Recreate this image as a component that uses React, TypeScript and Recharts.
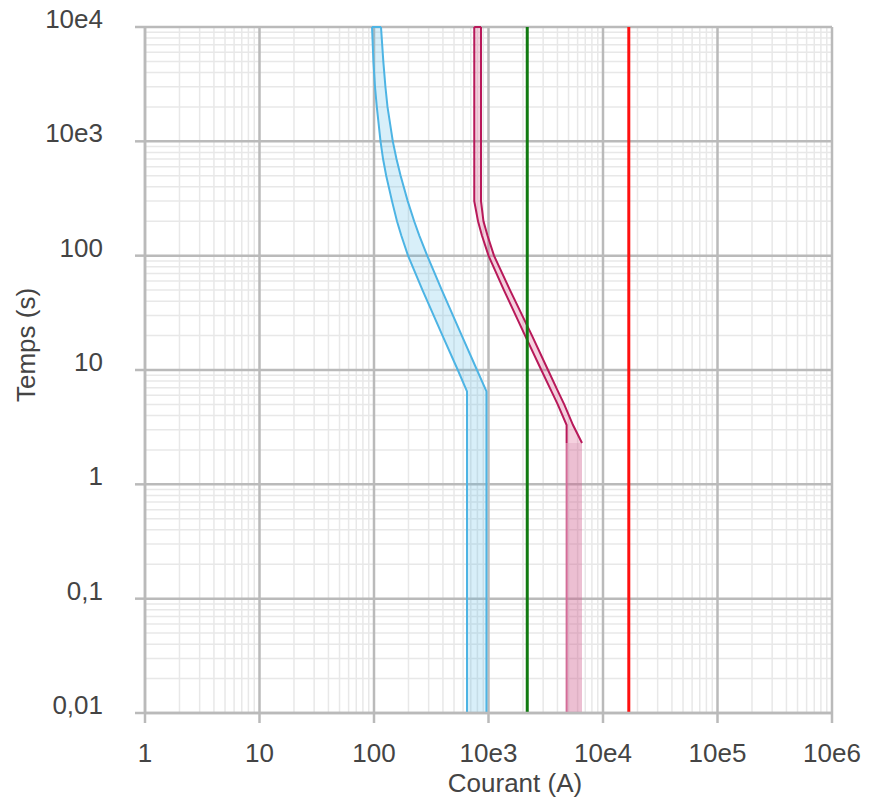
import React from "react";
import {
  ComposedChart,
  Area,
  Line,
  XAxis,
  YAxis,
  CartesianGrid,
  ReferenceLine,
} from "recharts";

const FONT = "Arial, 'Liberation Sans', sans-serif";

// temps (s), lu de haut en bas
const times = [10000, 5000, 3000, 2000, 1000, 700, 500, 300, 200, 150, 100, 50, 20, 10, 6.5, 5, 3.3, 2.3, 0.01];

// courbe bleue (courant mini / maxi)
const blueMin = [96.1, 98.8, 102, 105.8, 114, 120, 127.8, 143.6, 158.8, 173.1, 198.2, 265.2, 396.6, 539.4, 649, 649, 649, 649, 649];
const blueMax = [115.1, 120.6, 125.8, 131.2, 146, 157.2, 170.8, 197, 224.4, 248.7, 291.5, 391.1, 584.6, 793.4, 960, 960, 960, 960, 960];

// courbe bordeaux (thermique)
const redMin = [751, 751, 751, 751, 751, 751, 751, 751, 810, 876, 1000, 1363, 2087, 2892, 3550, 4022, 4810, 4810, null];
const redMax = [860, 860, 860, 860, 860, 860, 860, 860, 904, 980, 1117, 1541, 2398, 3309, 4046, 4584, 5470, 6555, null];

// zone instantanée (rose)
const pinkMin = [null, null, null, null, null, null, null, null, null, null, null, null, null, null, null, null, null, 4810, 4810];
const pinkMax = [null, null, null, null, null, null, null, null, null, null, null, null, null, null, null, null, null, 6555, 6555];

const greenCurrent = 2180;
const redCurrent = 16800;

const xTicks = [1, 10, 100, 1000, 10000, 100000, 1000000];
const xTickLabels = ["1", "10", "100", "10e3", "10e4", "10e5", "10e6"];
const yTicks = [0.01, 0.1, 1, 10, 100, 1000, 10000];
const yTickLabels = ["0,01", "0,1", "1", "10", "100", "10e3", "10e4"];

const minorSteps = [2, 3, 4, 5, 6, 7, 8, 9];
const xMinor = xTicks.slice(0, -1).flatMap((d) => minorSteps.map((m) => m * d));
const yMinor = yTicks.slice(0, -1).flatMap((d) => minorSteps.map((m) => +(m * d).toPrecision(3)));

const pair = (a: number | null, b: number | null) => (a == null || b == null ? [null, null] : [a, b]);

const data = times.map((t, i) => ({
  t,
  blue: pair(blueMin[i], blueMax[i]),
  red: pair(redMin[i], redMax[i]),
  pink: pair(pinkMin[i], pinkMax[i]),
  pinkEdge: pinkMin[i],
}));

const last = times.length - 1;

const XTick = (props: any) => {
  const { x, y, payload } = props;
  const i = xTicks.indexOf(payload.value);
  return (
    <text x={x} y={y + 37} textAnchor="middle" fontSize={26} fill="#444" fontFamily={FONT}>
      {i >= 0 ? xTickLabels[i] : String(payload.value)}
    </text>
  );
};

const YTick = (props: any) => {
  const { x, y, payload } = props;
  const i = yTicks.indexOf(payload.value);
  return (
    <text x={x - 30} y={y + 1} textAnchor="end" fontSize={26} fill="#444" fontFamily={FONT}>
      {i >= 0 ? yTickLabels[i] : String(payload.value)}
    </text>
  );
};

const BLUE = "#4db4e4";
const CRIMSON = "#b8195a";

export default function App() {
  return (
    <div style={{ position: "absolute", left: 0, top: 0, width: 886, height: 803, background: "#fff" }}>
      <ComposedChart
        width={886}
        height={803}
        data={data}
        layout="vertical"
        margin={{ top: 27, right: 54, bottom: 30, left: 80 }}
      >
        <CartesianGrid verticalValues={xMinor} horizontalValues={yMinor} stroke="#e8e8e8" strokeWidth={1.5} />
        <CartesianGrid verticalValues={xTicks} horizontalValues={yTicks} stroke="#bababa" strokeWidth={2.5} />
        <XAxis
          type="number"
          scale="log"
          domain={[1, 1000000]}
          allowDataOverflow
          ticks={xTicks}
          interval={0}
          height={60}
          tick={<XTick />}
          tickSize={10}
          tickMargin={2}
          axisLine={{ stroke: "#bababa", strokeWidth: 2.5 }}
          tickLine={{ stroke: "#bababa", strokeWidth: 2.5 }}
        />
        <YAxis
          type="number"
          dataKey="t"
          scale="log"
          domain={[0.01, 10000]}
          allowDataOverflow
          reversed
          ticks={yTicks}
          interval={0}
          width={65}
          tick={<YTick />}
          tickSize={10}
          tickMargin={2}
          axisLine={{ stroke: "#bababa", strokeWidth: 2.5 }}
          tickLine={{ stroke: "#bababa", strokeWidth: 2.5 }}
        />
        <Area
          dataKey="blue"
          type="linear"
          stroke={BLUE}
          strokeWidth={2}
          fill={BLUE}
          fillOpacity={0.22}
          isAnimationActive={false}
        />
        <Area
          dataKey="pink"
          type="linear"
          stroke="none"
          fill="#d0608e"
          fillOpacity={0.4}
          isAnimationActive={false}
        />
        <Line
          dataKey="pinkEdge"
          type="linear"
          stroke="#d46d98"
          strokeWidth={2}
          dot={false}
          isAnimationActive={false}
        />
        <Area
          dataKey="red"
          type="linear"
          stroke={CRIMSON}
          strokeWidth={2}
          fill="#d8467e"
          fillOpacity={0.25}
          isAnimationActive={false}
        />
        <ReferenceLine segment={[{ x: blueMin[0], y: times[0] }, { x: blueMax[0], y: times[0] }]} stroke={BLUE} strokeWidth={2} />
        <ReferenceLine segment={[{ x: blueMin[last], y: times[last] }, { x: blueMax[last], y: times[last] }]} stroke={BLUE} strokeWidth={2} />
        <ReferenceLine segment={[{ x: redMin[0], y: times[0] }, { x: redMax[0], y: times[0] }]} stroke={CRIMSON} strokeWidth={2} />
        <ReferenceLine segment={[{ x: pinkMin[last], y: times[last] }, { x: pinkMax[last], y: times[last] }]} stroke="#c4477c" strokeWidth={2} />
        <ReferenceLine x={greenCurrent} stroke="#107a10" strokeWidth={3} />
        <ReferenceLine x={redCurrent} stroke="#ff1010" strokeWidth={3} />
      </ComposedChart>
      <svg width={886} height={803} style={{ position: "absolute", left: 0, top: 0, pointerEvents: "none" }}>
        <text x={515} y={792} textAnchor="middle" fontSize={26} fill="#444" fontFamily={FONT}>
          Courant (A)
        </text>
        <text
          x={35}
          y={345}
          textAnchor="middle"
          fontSize={26}
          fill="#444"
          fontFamily={FONT}
          transform="rotate(-90 35 345)"
        >
          Temps (s)
        </text>
      </svg>
    </div>
  );
}
